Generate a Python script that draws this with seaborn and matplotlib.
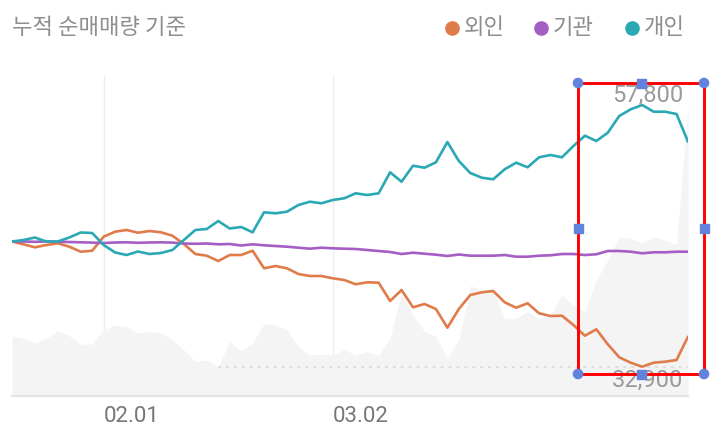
import numpy as np
import pandas as pd
import matplotlib
matplotlib.use("Agg")
import matplotlib.pyplot as plt
import seaborn as sns
from matplotlib.patches import Rectangle, Circle

# ---------------- data ----------------
title = "누적 순매매량 기준"
series_names = ["외인", "기관", "개인"]
series_colors = ["#E07B4A", "#A45EC4", "#2AA9B4"]
tick_positions = [8, 28]
tick_labels = ["02.01", "03.02"]

# cumulative net buying (relative units)
foreign = [0, -2.8, -5.8, -3.5, -1.8, -5.2, -10.2, -9.2, 4.8, 9.8,
           11.5, 8.8, 10.5, 9.2, 5.8, -2.5, -12.5, -14.2, -19.5, -13.5,
           -13.5, -9.2, -26.8, -24.5, -26.8, -32.5, -34.5, -34.5, -36.8, -38.5,
           -42.8, -40.8, -41.2, -59.5, -48.5, -65.8, -62.5, -67.5, -86.2, -67.5,
           -53.5, -50.8, -49.5, -60.8, -66.2, -61.8, -71.8, -74.5, -74.2, -83.5,
           -94.2, -87.8, -102.8, -115.8, -121.2, -125.2, -121.2, -120.2, -118.5, -95.2]
institution = [0, 0, -0.3, 0, -0.3, -0.5, -0.8, -1.1, -1.5, -1.0,
               -0.8, -1.3, -1.0, -0.8, -1.1, -2.0, -2.3, -2.0, -2.8, -2.5,
               -4.0, -2.8, -3.8, -4.5, -5.2, -6.2, -7.2, -6.2, -6.8, -7.2,
               -7.5, -8.5, -9.5, -10.5, -12.5, -11.2, -12.2, -13.2, -14.5, -13.0,
               -14.2, -14.2, -14.2, -13.5, -15.2, -15.2, -14.2, -13.8, -12.5, -12.5,
               -13.5, -12.8, -9.5, -9.5, -10.2, -11.8, -10.8, -10.8, -10.2, -10.2]
individual = [0, 1.5, 4, 0, 0, 4, 9, 8.5, -3.5, -11,
              -13.5, -10, -12.5, -11.5, -8.5, 1.5, 11.5, 12.5, 20.5, 13,
              14.5, 9.2, 29.2, 28.2, 29.8, 36.5, 39.8, 38.2, 41.5, 43.2,
              48.2, 46.5, 48.2, 69.2, 59.8, 75.8, 73.8, 79.2, 99.5, 80.5,
              68.5, 63.8, 62.2, 72.2, 78.8, 74.2, 84.2, 86.5, 84.2, 95.5,
              105.8, 100.5, 108.8, 125.5, 132.2, 136.5, 129.8, 129.8, 127.5, 99.8]
# stock price (background area)
price = [35800, 35600, 35150, 35600, 36300, 35850, 35050, 35050, 36400, 36850,
         36700, 36100, 36250, 36100, 35450, 34500, 33400, 33550, 32900, 35300,
         34400, 35150, 37000, 36900, 36400, 34800, 34000, 34100, 34000, 34550,
         34000, 34350, 33950, 35650, 39900, 37800, 36250, 35800, 33700, 35450,
         40600, 40200, 40050, 37500, 37500, 38150, 37500, 37800, 39700, 38750,
         38150, 41150, 43050, 45250, 45100, 44650, 45250, 44950, 44500, 57800]
price_max_label = "57,800"
price_min_label = "32,900"

# ---------------- figure ----------------
sns.set_theme(style="white")
plt.rcParams['font.family'] = ['Roboto', 'Noto Sans CJK KR', 'DejaVu Sans']

W, H = 722, 433
fig = plt.figure(figsize=(W / 100, H / 100), dpi=100)
fig.patch.set_facecolor("white")

ax_left, ax_right, ax_top, ax_bot = 12, 688, 75, 396
rect = [ax_left / W, 1 - ax_bot / H, (ax_right - ax_left) / W, (ax_bot - ax_top) / H]

# price area axis (behind)
axp = fig.add_axes(rect)
x = np.arange(len(price))
pmin, pmax = min(price), max(price)
per_px = (pmax - pmin) / (366.7 - 105.0)
axp.set_ylim(pmin - (ax_bot - 366.7) * per_px, pmax + (105.0 - ax_top) * per_px)
axp.set_xlim(0, len(price) - 1)
axp.fill_between(x, axp.get_ylim()[0], price, color="#F4F4F4", lw=0, zorder=1)
imin = int(np.argmin(price))
axp.plot([imin, len(price) - 1], [pmin, pmin], color="#D6D6D6", lw=1.1,
         linestyle=(0, (2, 3.2)), zorder=2)
for tp in tick_positions:
    axp.axvline(tp, color="#EEEEEE", lw=1.0, zorder=0.5)
axp.axis("off")

# lines axis
ax = fig.add_axes(rect)
ax.patch.set_alpha(0)
df = pd.DataFrame({
    "idx": np.tile(x, 3),
    "value": foreign + institution + individual,
    "who": np.repeat(series_names, len(x)),
})
sns.lineplot(data=df, x="idx", y="value", hue="who", hue_order=series_names,
             palette=series_colors, linewidth=1.9, legend=False, ax=ax)
ax.set_xlim(0, len(x) - 1)
ax.set_ylim(-(ax_bot - 241.5), 241.5 - ax_top)
for s in ["top", "right", "left"]:
    ax.spines[s].set_visible(False)
ax.spines["bottom"].set_color("#E4E4E4")
ax.spines["bottom"].set_linewidth(1.6)
ax.set_yticks([])
ax.set_xticks(tick_positions)
ax.set_xticklabels(tick_labels, ha="left", color="#777777", fontsize=16)
ax.tick_params(axis="x", length=0, pad=7)
ax.set_xlabel("")
ax.set_ylabel("")

# overlay in pixel coordinates for texts / legend / annotation box
ov = fig.add_axes([0, 0, 1, 1])
ov.set_xlim(0, W)
ov.set_ylim(H, 0)
ov.axis("off")
ov.patch.set_alpha(0)

ov.text(12, 27, title, fontsize=16, color="#8E8E8E", va="center", ha="left",
        family=['Noto Sans CJK KR', 'DejaVu Sans'])

leg_dot_x = [452, 541, 632]
for name, col, dx in zip(series_names, series_colors, leg_dot_x):
    ov.plot([dx], [28], marker="o", markersize=9.5, color=col, mec=col)
    ov.text(dx + 12, 27, name, fontsize=16, color="#8E8E8E", va="center", ha="left",
            family=['Noto Sans CJK KR', 'DejaVu Sans'])

ov.text(683, 95, price_max_label, fontsize=17, color="#9A9A9A", va="center", ha="right")
ov.text(683, 380, price_min_label, fontsize=17, color="#9A9A9A", va="center", ha="right")

# selection box annotation
bx0, by0, bx1, by1 = 578, 83, 704, 374
ov.add_patch(Rectangle((bx0, by0), bx1 - bx0, by1 - by0, fill=False,
                       edgecolor="#FF0000", lw=2.1, zorder=10))
handle_col = "#6183DD"
for cx, cy in [(bx0, by0), (bx1, by0), (bx0, by1), (bx1, by1)]:
    ov.add_patch(Circle((cx, cy), 4.6, color=handle_col, zorder=11))
for cx, cy in [((bx0 + bx1) / 2, by0), ((bx0 + bx1) / 2, by1),
               (bx0, (by0 + by1) / 2), (bx1, (by0 + by1) / 2)]:
    ov.add_patch(Rectangle((cx - 4.5, cy - 4.5), 9, 9, color=handle_col, zorder=11))

fig.savefig("out.png", dpi=100)
